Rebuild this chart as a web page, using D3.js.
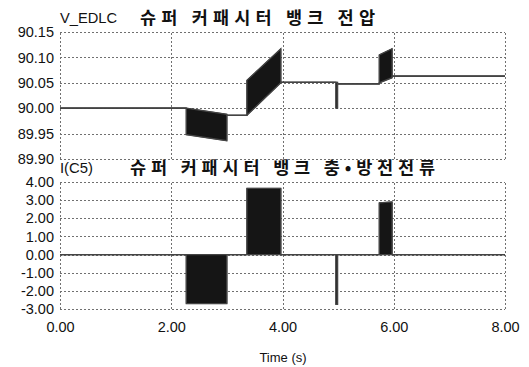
<!DOCTYPE html>
<html><head><meta charset="utf-8">
<script src="https://cdn.jsdelivr.net/npm/d3@7"></script>
<style>
body{margin:0;background:#fff;}
svg{display:block;}
text{font-family:"Liberation Sans",Arial,sans-serif;fill:#111;}
.kr{font-family:"Noto Sans CJK KR",sans-serif;font-weight:bold;}
</style></head>
<body>
<script>
// ---- data ----
const xTicks = [0, 2, 4, 6, 8];
const xTickLabels = ["0.00", "2.00", "4.00", "6.00", "8.00"];
const vTicks = [89.90, 89.95, 90.00, 90.05, 90.10, 90.15];
const vTickLabels = ["89.90", "89.95", "90.00", "90.05", "90.10", "90.15"];
const iTicks = [-3, -2, -1, 0, 1, 2, 3, 4];
const iTickLabels = ["-3.00", "-2.00", "-1.00", "0.00", "1.00", "2.00", "3.00", "4.00"];

// envelope of the voltage waveform (time, lower, upper)
const vTime = [0, 2.27, 2.27, 3.0, 3.0, 3.36, 3.36, 3.97, 3.97, 4.96, 4.96, 4.99, 4.99, 5.74, 5.74, 5.97, 5.97, 8];
const vLow  = [90.0, 90.0, 89.948, 89.936, 89.986, 89.986, 89.986, 90.05, 90.051, 90.051, 90.0, 90.0, 90.048, 90.048, 90.05, 90.06, 90.063, 90.063];
const vHigh = [90.0, 90.0, 90.0, 89.988, 89.986, 89.986, 90.055, 90.117, 90.051, 90.051, 90.051, 90.051, 90.048, 90.048, 90.105, 90.117, 90.063, 90.063];

// envelope of the current waveform (time, lower, upper)
const iTime = [0, 2.27, 2.27, 3.0, 3.0, 3.36, 3.36, 3.97, 3.97, 4.96, 4.96, 4.99, 4.99, 5.74, 5.74, 5.97, 5.97, 8];
const iLow  = [0, 0, -2.7, -2.7, 0, 0, 0, 0, 0, 0, -2.75, -2.75, 0, 0, 0, 0, 0, 0];
const iHigh = [0, 0, 0, 0, 0, 0, 3.65, 3.65, 0, 0, 0, 0, 0, 0, 2.85, 2.9, 0, 0];

const W = 529, H = 367;
const svg = d3.select("body").append("svg").attr("width", W).attr("height", H);

const x = d3.scaleLinear().domain([0, 8]).range([60, 505]);
const yV = d3.scaleLinear().domain([89.90, 90.15]).range([159, 32]);
const yI = d3.scaleLinear().domain([-3, 4]).range([309, 182]);

const gridColor = "#707070";

function panel(y, ticks, labels, time, low, high) {
  const g = svg.append("g");
  const [y0, y1] = y.range();
  g.selectAll(".hg").data(ticks).enter().append("line")
    .attr("x1", x(0)).attr("x2", x(8))
    .attr("y1", d => Math.round(y(d)) + 0.5).attr("y2", d => Math.round(y(d)) + 0.5)
    .attr("stroke", gridColor).attr("stroke-width", 1).attr("stroke-dasharray", "2,2");
  g.selectAll(".vg").data(xTicks).enter().append("line")
    .attr("x1", d => Math.round(x(d)) + 0.5).attr("x2", d => Math.round(x(d)) + 0.5)
    .attr("y1", y0).attr("y2", y1)
    .attr("stroke", gridColor).attr("stroke-width", 1).attr("stroke-dasharray", "2,2");
  const ax = d3.axisLeft(y).tickValues(ticks).tickSize(0).tickPadding(6)
    .tickFormat((d, i) => labels[i]);
  const ag = g.append("g").attr("transform", `translate(${x(0)},0)`).call(ax);
  ag.select(".domain").remove();
  ag.selectAll("text").attr("font-size", 14.5).attr("font-family", "Liberation Sans, Arial, sans-serif").attr("fill", "#111");
  const pts = time.map((t, i) => ({t, lo: low[i], hi: high[i]}));
  const area = d3.area().x(d => x(d.t)).y0(d => y(d.lo)).y1(d => y(d.hi));
  g.append("path").attr("d", area(pts)).attr("fill", "#151515").attr("stroke", "#151515").attr("stroke-width", 0.8);
  const lowLine = d3.line().x(d => x(d.t)).y(d => y(d.lo));
  const highLine = d3.line().x(d => x(d.t)).y(d => y(d.hi));
  g.append("path").attr("d", lowLine(pts)).attr("fill", "none").attr("stroke", "#444").attr("stroke-width", 1.3);
  g.append("path").attr("d", highLine(pts)).attr("fill", "none").attr("stroke", "#444").attr("stroke-width", 1.3);
}

panel(yV, vTicks, vTickLabels, vTime, vLow, vHigh);
panel(yI, iTicks, iTickLabels, iTime, iLow, iHigh);

const xa = d3.axisBottom(x).tickValues(xTicks).tickSize(0).tickPadding(13)
  .tickFormat((d, i) => xTickLabels[i]);
const xg = svg.append("g").attr("transform", `translate(0,${yI(-3)})`).call(xa);
xg.select(".domain").remove();
xg.selectAll("text").attr("font-size", 14.5).attr("font-family", "Liberation Sans, Arial, sans-serif").attr("fill", "#111");

svg.append("text").attr("x", 283).attr("y", 362).attr("text-anchor", "middle")
  .attr("font-size", 13).text("Time (s)");

// titles
svg.append("text").attr("x", 60).attr("y", 23).attr("font-size", 14).attr("fill", "#333")
  .attr("textLength", 57).attr("lengthAdjust", "spacingAndGlyphs").text("V_EDLC");
svg.append("text").attr("class", "kr").attr("x", 140).attr("y", 24).attr("font-size", 17.5)
  .attr("textLength", 235).attr("lengthAdjust", "spacing").text("슈퍼 커패시터 뱅크 전압");
svg.append("text").attr("x", 60).attr("y", 173).attr("font-size", 14).attr("fill", "#333")
  .attr("textLength", 33).attr("lengthAdjust", "spacingAndGlyphs").text("I(C5)");
svg.append("text").attr("class", "kr").attr("x", 130).attr("y", 174).attr("font-size", 17.5)
  .attr("textLength", 305).attr("lengthAdjust", "spacing").text("슈퍼 커패시터 뱅크 충•방전전류");
</script>
</body></html>
